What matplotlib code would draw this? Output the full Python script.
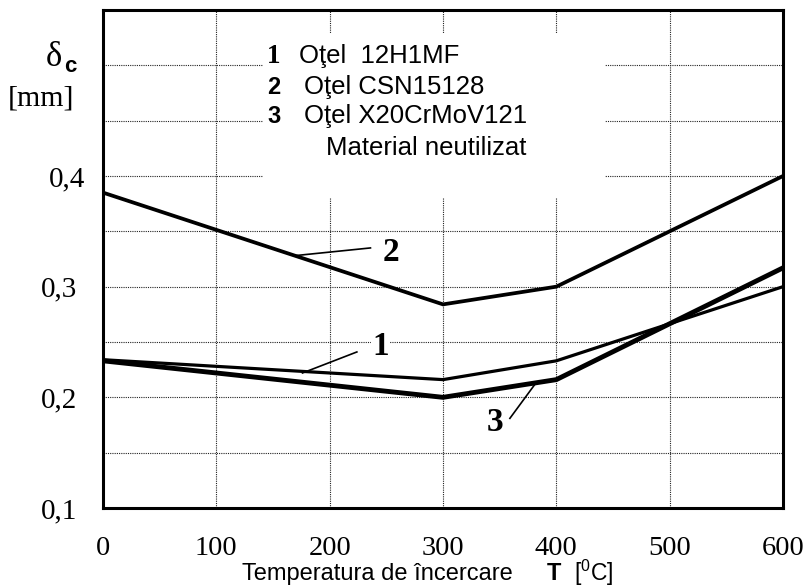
import matplotlib
matplotlib.use("Agg")
import matplotlib.pyplot as plt
from matplotlib.patches import Rectangle
from matplotlib.transforms import ScaledTranslation

# ---- data ----
temps = [0, 300, 400, 600]
s1_12H1MF = [0.234, 0.216, 0.233, 0.300]
s2_CSN15128 = [0.385, 0.284, 0.300, 0.400]
s3_X20CrMoV121 = [0.233, 0.200, 0.216, 0.317]
xticks = [0, 100, 200, 300, 400, 500, 600]
yticks = [0.1, 0.2, 0.3, 0.4]
ytick_labels = ["0,1", "0,2", "0,3", "0,4"]
legend_nums = ["1", "2", "3"]
legend_names = ["Oţel  12H1MF", "Oţel CSN15128", "Oţel X20CrMoV121"]

SERIF = "Liberation Serif"
SANS = "Liberation Sans"
plt.rcParams["mathtext.fontset"] = "custom"
plt.rcParams["mathtext.rm"] = SANS
plt.rcParams["mathtext.it"] = SANS

fig = plt.figure(figsize=(8.1, 5.88), dpi=100)
ax = fig.add_axes([103/810, 80/588, 680/810, 498/588])
ax.set_xlim(0, 600)
ax.set_ylim(0.1, 0.55)

# grid (dotted)
for gx in xticks[1:-1]:
    ax.axvline(gx, color="#222222", lw=0.8, ls=(0, (1, 1)), zorder=1)
for gy in [0.15, 0.2, 0.25, 0.3, 0.35, 0.4, 0.45, 0.5]:
    ax.axhline(gy, color="#222222", lw=0.8, ls=(0, (1, 1)), zorder=1)

# white area behind legend
ax.add_patch(Rectangle((141, 0.38), 302, 0.148, facecolor="white",
                       edgecolor="none", zorder=2))

ax.plot(temps, s2_CSN15128, color="black", lw=2.7, zorder=4, solid_joinstyle="miter")
ax.plot(temps, s1_12H1MF, color="black", lw=2.3, zorder=4, solid_joinstyle="miter")
ax.plot(temps, s3_X20CrMoV121, color="black", lw=3.5, zorder=4, solid_joinstyle="miter")

for sp in ax.spines.values():
    sp.set_linewidth(2.2)
    sp.set_zorder(5)

ax.set_xticks(xticks)
ax.set_xticklabels([str(t) for t in xticks], fontfamily=SERIF, fontsize=20.5)
ax.set_yticks(yticks)
ax.set_yticklabels(ytick_labels, fontfamily=SERIF, fontsize=21)
ax.tick_params(axis="both", length=0)
ax.tick_params(axis="x", pad=20)
ax.tick_params(axis="y", pad=18.5)
# the top label sits a little further right in the reference
top_lab = ax.get_yticklabels()[-1]
top_lab.set_transform(top_lab.get_transform() + ScaledTranslation(8/100, 0, fig.dpi_scale_trans))

# curve labels with leader lines
bb = dict(facecolor="white", edgecolor="none", pad=1)
ax.plot([169, 236], [0.328, 0.335], color="black", lw=1.2, zorder=4)
ax.text(254, 0.331, "2", fontfamily=SERIF, fontweight="bold", fontsize=24,
        ha="center", va="center", zorder=3, bbox=bb)
ax.plot([176, 224], [0.222, 0.241], color="black", lw=1.2, zorder=4)
ax.text(245, 0.246, "1", fontfamily=SERIF, fontweight="bold", fontsize=24,
        ha="center", va="center", zorder=3, bbox=bb)
ax.plot([359, 382], [0.181, 0.213], color="black", lw=1.2, zorder=4)
ax.text(346, 0.177, "3", fontfamily=SERIF, fontweight="bold", fontsize=24,
        ha="center", va="center", zorder=3, bbox=bb)

# legend text
rows_y = [0.508, 0.480, 0.454]
num_fonts = [SERIF, SANS, SANS]
num_sizes = [19.5, 17, 17]
name_x = [173, 177, 177]
for num, name, yy, nf, ns, nx in zip(legend_nums, legend_names, rows_y, num_fonts,
                                     num_sizes, name_x):
    ax.text(145, yy, num, fontfamily=nf, fontweight="bold", fontsize=ns,
            ha="left", va="center", zorder=3)
    ax.text(nx, yy, name, fontfamily=SANS, fontsize=18.5, ha="left", va="center", zorder=3)
ax.text(197, 0.425, "Material neutilizat", fontfamily=SANS, fontsize=18.5,
        ha="left", va="center", zorder=3)

# y-axis label
fig.text(46/810, 1 - 58/588, "δ", fontfamily=SERIF, fontsize=25, ha="left", va="center")
fig.text(64/810, 1 - 66/588, "c", fontfamily=SANS, fontweight="bold", fontsize=16,
         ha="left", va="center")
fig.text(8/810, 1 - 98/588, "[mm]", fontfamily=SERIF, fontsize=21.5, ha="left", va="center")

# x-axis label
fig.text(242/810, 1 - 574/588, "Temperatura de încercare", fontfamily=SANS, fontsize=17,
         ha="left", va="center")
fig.text(547/810, 1 - 574/588, "T", fontfamily=SANS, fontweight="bold", fontsize=17,
         ha="left", va="center")
fig.text(574/810, 1 - 573/588, r"[$^{0}$C]", fontfamily=SANS, fontsize=16.5,
         ha="left", va="center")

fig.savefig("out.png", dpi=100)
